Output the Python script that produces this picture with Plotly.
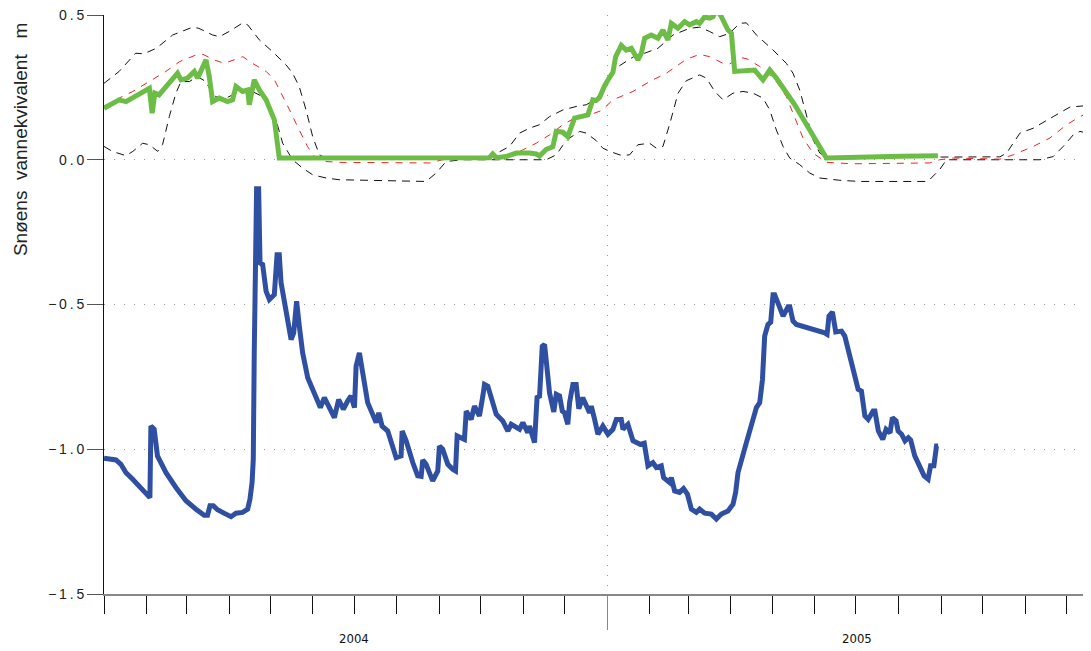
import pandas as pd
import plotly.graph_objects as go

START = pd.Timestamp("2004-01-01")

# Observed snow water equivalent (m), days since 2004-01-01
snow_day = [0, 11, 16, 21, 28, 33, 35, 37, 40, 53.5, 56, 60.8, 65.7, 68.1, 74.2, 76.6, 79, 83.9, 89.9, 93.5,
            96, 100.8, 104.5, 105.7, 109.3, 113, 117.9, 123.9, 127.5, 171, 230, 280.4, 282.8, 285.5, 292.6,
            299.9, 309.5, 314.4, 316.8, 321.7, 326.5, 329, 333.8, 337.4, 342.3, 348.3, 352, 355.6, 358.1,
            360.5, 364.1, 367.8, 370.2, 372.2, 376.3, 379.9, 383.6, 388.4, 390.9, 393.3, 398.1, 403, 406.6,
            410.2, 412.7, 417.5, 422.4, 426, 430.9, 433.3, 437, 440.6, 443, 445.7, 449.1, 453.9, 456.4,
            458.8, 473.3, 479.4, 484.3, 489.1, 500.1, 502.5, 525.5, 549.8, 580, 606.6]
snow_obs = [0.178, 0.207, 0.201, 0.216, 0.236, 0.247, 0.161, 0.23, 0.224, 0.299, 0.276, 0.282, 0.305, 0.282,
            0.345, 0.287, 0.201, 0.213, 0.201, 0.207, 0.253, 0.236, 0.241, 0.19, 0.276, 0.241, 0.207, 0.138,
            0.006, 0.007, 0.008, 0.007, 0.02, 0.007, 0.011, 0.023, 0.023, 0.02, 0.013, 0.036, 0.045, 0.098,
            0.095, 0.08, 0.144, 0.149, 0.155, 0.207, 0.205, 0.215, 0.255, 0.285, 0.302, 0.356, 0.395, 0.379,
            0.385, 0.345, 0.368, 0.42, 0.431, 0.42, 0.448, 0.414, 0.471, 0.454, 0.477, 0.466, 0.477, 0.471,
            0.494, 0.489, 0.494, 0.52, 0.494, 0.448, 0.437, 0.305, 0.31, 0.276, 0.31, 0.282, 0.201, 0.19,
            0.006, 0.01, 0.012, 0.014]

# Median of reference period
med_day = [0, 11, 21, 33, 45, 55, 67, 72, 80, 87.5, 95, 101, 108, 118, 124, 129, 135, 142, 148, 154, 161.5,
           171, 236.8, 246.4, 261, 285.3, 295, 304.7, 314.4, 324.1, 333.8, 343.5, 353.2, 362, 370.2, 384.8,
           396.9, 409.1, 423.6, 433.3, 440.6, 450.3, 455.1, 463.7, 468.5, 477, 483, 489.1, 496.4, 501.2,
           508.5, 515.8, 525.5, 544.9, 600.7, 607.9, 617.7, 651.7, 661.4, 676, 688.1, 700.3, 710, 718]
med_val = [0.184, 0.213, 0.236, 0.27, 0.305, 0.339, 0.362, 0.364, 0.345, 0.333, 0.345, 0.356, 0.333, 0.305,
           0.276, 0.23, 0.172, 0.103, 0.046, 0.006, -0.006, -0.009, -0.011, 0.0, 0.004, 0.006, 0.014, 0.034,
           0.057, 0.086, 0.121, 0.147, 0.155, 0.17, 0.207, 0.236, 0.27, 0.299, 0.347, 0.364, 0.356, 0.333,
           0.331, 0.353, 0.347, 0.322, 0.299, 0.27, 0.218, 0.161, 0.075, 0.023, -0.009, -0.014, -0.011, 0.0,
           0.006, 0.002, 0.017, 0.046, 0.075, 0.121, 0.149, 0.167]

# Upper quantile
hi_day = [0, 11, 23, 29, 38, 50, 64.5, 69, 79, 84, 91, 101, 104.5, 113, 122.7, 132.4, 137.2, 142, 147,
          151.8, 156.7, 161.5, 171, 280.4, 295, 302.3, 309.5, 316.8, 324.1, 333.8, 343.5, 350.8, 358.1,
          365.4, 370.2, 380, 387.2, 393.3, 403, 413.9, 426, 433.3, 440.6, 447.9, 455.1, 462.4, 467.3, 474.6,
          486.7, 496.4, 501.2, 506.1, 511, 515.8, 520.7, 525.5, 651.7, 656.6, 666.3, 676, 690.5, 702.7,
          712.4, 718]
hi_val = [0.264, 0.305, 0.368, 0.366, 0.385, 0.431, 0.458, 0.454, 0.431, 0.425, 0.443, 0.473, 0.466, 0.414,
          0.373, 0.328, 0.299, 0.253, 0.172, 0.08, 0.017, 0.006, 0.003, 0.009, 0.046, 0.092, 0.109, 0.121,
          0.149, 0.172, 0.184, 0.19, 0.21, 0.265, 0.31, 0.339, 0.362, 0.368, 0.385, 0.431, 0.454, 0.458,
          0.443, 0.425, 0.437, 0.471, 0.473, 0.431, 0.379, 0.333, 0.299, 0.241, 0.149, 0.069, 0.023, 0.008,
          0.01, 0.023, 0.092, 0.109, 0.149, 0.182, 0.186, 0.201]

# Lower quantile
lo_day = [0, 6, 16, 21, 28, 33, 39, 42.6, 47.5, 52.3, 56, 62, 68, 74.2, 79, 86.3, 93.5, 98.4, 105.7, 115.4,
          120.3, 125.1, 130, 137.2, 144.5, 151.8, 161.5, 171, 234.3, 241.6, 248.9, 261, 321.7, 329, 333.8,
          338.7, 346, 350.8, 358.1, 362.9, 367.8, 376.3, 382.4, 388.4, 396.9, 401.8, 406.6, 411.7, 417.6,
          423.6, 433.3, 438.2, 444.3, 450.3, 457.6, 464.8, 472.1, 479.4, 484.3, 489.1, 494, 498.8, 506.1,
          513.4, 520.7, 535.3, 549.8, 599.3, 607.9, 612.9, 680.9, 690.5, 697.8, 705.1, 710, 714.9, 718]
lo_val = [0.046, 0.029, 0.014, 0.029, 0.057, 0.052, 0.029, 0.052, 0.149, 0.23, 0.27, 0.27, 0.287, 0.27,
          0.224, 0.207, 0.224, 0.241, 0.241, 0.218, 0.184, 0.138, 0.057, 0.0, -0.029, -0.052, -0.063, -0.069,
          -0.075, -0.046, -0.006, 0.0, 0.0, 0.017, 0.05, 0.075, 0.098, 0.092, 0.066, 0.04, 0.029, 0.015,
          0.017, 0.052, 0.057, 0.04, 0.046, 0.126, 0.23, 0.273, 0.293, 0.282, 0.236, 0.207, 0.23, 0.236,
          0.23, 0.213, 0.172, 0.103, 0.046, 0.006, -0.017, -0.046, -0.063, -0.071, -0.075, -0.075, -0.034,
          0.0, 0.0, 0.011, 0.046, 0.086, 0.098, 0.092, 0.08]

# Blue series
blue_day = [0, 8.7, 12.3, 16, 20.7, 28, 31.7, 33.4, 34.1, 36.5, 38.9, 45.1, 52.3, 59.6, 66.9, 72.9, 75.3,
            77.1, 79.5, 82.6, 88.7, 92.4, 96, 100.8, 104.5, 106.2, 107.7, 108.6, 109.3, 110.3, 111, 112.5,
            113.5, 115.4, 117.9, 120.3, 123.9, 125.9, 127.5, 128.8, 132.4, 136.1, 138, 139.2, 140.1, 142.1,
            144.5, 148.2, 150.6, 155.4, 157.4, 160.3, 162.7, 167.6, 170.7, 174.1, 177.3, 179.7, 182.2, 183.4,
            185.8, 188.2, 191.8, 198, 199.9, 202.3, 206.4, 212.5, 216.1, 216.9, 219.8, 224.6, 228.2, 230.7,
            231.9, 234.3, 236.8, 239.1, 242.8, 244, 246.4, 250.1, 253.7, 255.7, 256.9, 262.2, 263.5, 267.1,
            269.5, 273.1, 275.6, 276.8, 279.2, 285.3, 290.1, 293.8, 296.2, 302.3, 304.7, 308.3, 309.5, 313.2,
            315.1, 316.8, 318.8, 320.5, 324.1, 327.2, 329, 331.4, 333.4, 335, 337.4, 338.7, 341.1, 343.5,
            345.4, 348.3, 353.2, 354.5, 356.9, 359.3, 362.9, 366.6, 370.2, 372.7, 376.3, 377.5, 381.1, 384.8,
            390, 393, 395.7, 399.3, 401.8, 405.4, 407.1, 411.5, 412.7, 415.1, 418.7, 421.6, 424.4, 427.3,
            430.9, 433.3, 437, 441.8, 445.5, 449.1, 453.9, 457.6, 459.5, 461.2, 467.3, 474.6, 477, 479, 480.6,
            483, 485, 486.7, 487.9, 494, 497.6, 498.9, 501.2, 503.7, 524.3, 526, 527.4, 529.9, 532.3, 536.5,
            538.9, 548.6, 551, 553.5, 555.9, 559.5, 560.8, 563.3, 566.5, 568.9, 571.8, 573.5, 576.2, 577.7,
            580.2, 582.7, 585.1, 586.8, 589.8, 593.5, 596.6, 599.5, 601.3, 603.7, 605.6, 606.8]
blue_val = [-1.031, -1.037, -1.052, -1.081, -1.103, -1.138, -1.161, -1.167, -0.92, -0.931, -1.023, -1.081,
            -1.132, -1.178, -1.207, -1.228, -1.228, -1.195, -1.195, -1.209, -1.224, -1.233, -1.221, -1.218,
            -1.207, -1.172, -1.115, -1.034, -0.667, -0.3, -0.1, -0.1, -0.356, -0.362, -0.454, -0.483, -0.466,
            -0.328, -0.328, -0.425, -0.529, -0.621, -0.598, -0.489, -0.489, -0.575, -0.667, -0.753, -0.782,
            -0.833, -0.856, -0.822, -0.845, -0.891, -0.828, -0.862, -0.833, -0.816, -0.856, -0.713, -0.667,
            -0.736, -0.839, -0.908, -0.874, -0.92, -0.937, -1.029, -1.023, -0.937, -0.971, -1.046, -1.092,
            -1.094, -1.037, -1.052, -1.086, -1.109, -1.075, -0.989, -1.0, -1.052, -1.069, -1.075, -0.954,
            -0.966, -0.868, -0.897, -0.851, -0.885, -0.816, -0.776, -0.782, -0.879, -0.902, -0.937, -0.914,
            -0.931, -0.908, -0.943, -0.92, -0.977, -0.816, -0.822, -0.644, -0.638, -0.805, -0.871, -0.81,
            -0.816, -0.868, -0.874, -0.914, -0.839, -0.776, -0.776, -0.86, -0.822, -0.874, -0.851, -0.897,
            -0.948, -0.92, -0.948, -0.931, -0.897, -0.897, -0.931, -0.914, -0.971, -0.983, -0.979, -1.057,
            -1.046, -1.063, -1.057, -1.098, -1.115, -1.098, -1.144, -1.149, -1.136, -1.155, -1.207, -1.218,
            -1.207, -1.221, -1.224, -1.241, -1.224, -1.213, -1.19, -1.149, -1.081, -0.977, -0.856, -0.839,
            -0.759, -0.609, -0.569, -0.561, -0.466, -0.466, -0.54, -0.508, -0.508, -0.557, -0.569, -0.598,
            -0.603, -0.54, -0.526, -0.595, -0.592, -0.609, -0.793, -0.799, -0.885, -0.897, -0.868, -0.868,
            -0.937, -0.966, -0.931, -0.943, -0.891, -0.902, -0.937, -0.948, -0.971, -0.96, -0.968, -1.023,
            -1.057, -1.092, -1.103, -1.057, -1.057, -0.989, -0.989]

y_ticks = [0.5, 0.0, -0.5, -1.0, -1.5]
y_ticktext = ["0\u2009.\u20095", "0\u2009.\u20090", "\u2212\u20090\u2009.\u20095",
              "\u2212\u20091\u2009.\u20090", "\u2212\u20091\u2009.\u20095"]
year_labels = ["2004", "2005"]
year_mid = ["2004-07-01", "2005-07-02"]
y_title = "Sn\u00f8ens\u00a0\u00a0vannekvivalent\u00a0\u00a0\u00a0m"


def to_dates(days):
    return [START + pd.Timedelta(days=float(d)) for d in days]


fig = go.Figure()
dash_blk = "8px,6px"
fig.add_trace(go.Scatter(x=to_dates(lo_day), y=lo_val, mode="lines",
                         line=dict(color="#111111", width=1, dash=dash_blk), hoverinfo="skip"))
fig.add_trace(go.Scatter(x=to_dates(hi_day), y=hi_val, mode="lines",
                         line=dict(color="#111111", width=1, dash=dash_blk), hoverinfo="skip"))
fig.add_trace(go.Scatter(x=to_dates(med_day), y=med_val, mode="lines",
                         line=dict(color="#ee2222", width=1, dash="7px,7px"), hoverinfo="skip"))
fig.add_trace(go.Scatter(x=to_dates(snow_day), y=snow_obs, mode="lines",
                         line=dict(color="#6cbd45", width=5), hoverinfo="skip"))
fig.add_trace(go.Scatter(x=to_dates(blue_day), y=blue_val, mode="lines",
                         line=dict(color="#2f50a2", width=5), hoverinfo="skip"))

x_end = START + pd.Timedelta(days=718)

# The page body has an 8px default margin; size the figure so the plot area lands
# where it sits in the reference (left 104, top 15, bottom 594, right 1091).
fig.update_layout(
    width=1083, height=643,
    margin=dict(l=96, r=0, t=7, b=57, autoexpand=False),
    paper_bgcolor="white", plot_bgcolor="white",
    showlegend=False,
    font=dict(family="Liberation Sans, Arial, sans-serif", color="#222222"),
)
fig.update_xaxes(
    type="date", range=[START, x_end], automargin=False,
    tickvals=["2005-01-01"], ticktext=[""],
    ticks="outside", ticklen=34, tickcolor="#888888", tickwidth=1,
    showgrid=True, gridcolor="#999999", griddash="1px,9px", gridwidth=1,
    showline=True, linecolor="#888888", linewidth=2,
    zeroline=False,
    minor=dict(tick0="2004-01-01", dtick="M1", ticks="outside", ticklen=18,
               tickcolor="#111111", tickwidth=1, showgrid=False),
)
fig.update_yaxes(
    range=[-1.5, 0.5], tickvals=y_ticks, ticktext=y_ticktext, automargin=False,
    ticklabeloverflow="allow",
    ticks="outside", ticklen=16, tickcolor="#555555", tickwidth=1,
    tickfont=dict(size=14, color="#222222", family="Liberation Sans, Arial, sans-serif"),
    showgrid=True, gridcolor="#999999", griddash="1px,9px", gridwidth=1,
    showline=True, linecolor="#111111", linewidth=1,
    zeroline=False,
)

for lab, mid in zip(year_labels, year_mid):
    fig.add_annotation(x=mid, y=-0.076, xref="x", yref="paper", text=lab, showarrow=False,
                       xanchor="center", yanchor="middle",
                       font=dict(size=13, color="#111111",
                                 family="Liberation Sans Narrow, DejaVu Sans Condensed, sans-serif"))

fig.add_annotation(x=-0.0851, y=0.784, xref="paper", yref="paper", text=y_title, showarrow=False,
                   textangle=-90, xanchor="center", yanchor="middle",
                   font=dict(size=19, color="#222222", family="Liberation Sans, Arial, sans-serif"))

fig.write_html("out.html")
